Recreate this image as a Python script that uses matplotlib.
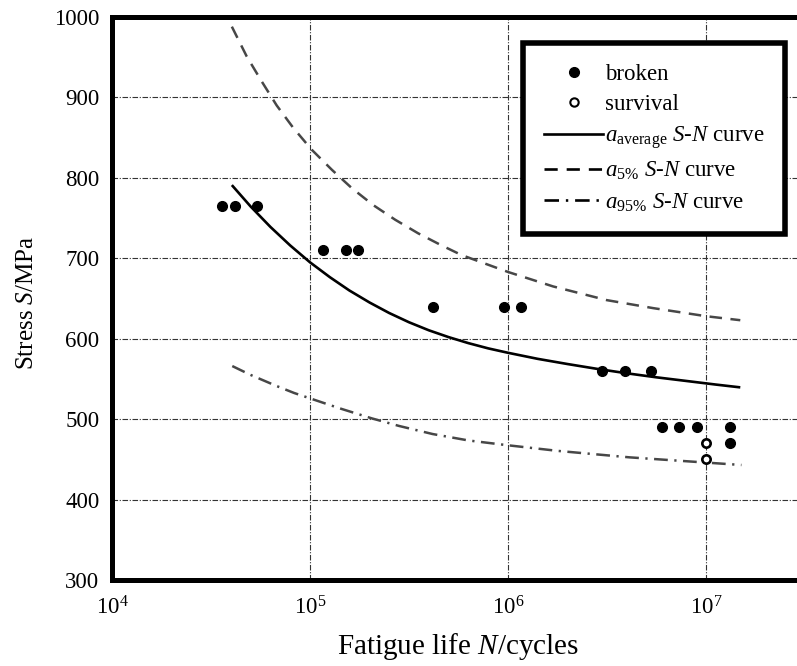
import matplotlib
matplotlib.use("Agg")
import matplotlib.pyplot as plt
from matplotlib.lines import Line2D

plt.rcParams['font.family'] = ['Liberation Serif', 'DejaVu Serif']
plt.rcParams['mathtext.fontset'] = 'custom'
plt.rcParams['mathtext.rm'] = 'Liberation Serif'
plt.rcParams['mathtext.it'] = 'Liberation Serif:italic'
plt.rcParams['mathtext.bf'] = 'Liberation Serif:bold'

# ---- data ----
broken_N = [3.6e4, 4.2e4, 5.4e4, 1.16e5, 1.52e5, 1.75e5, 4.2e5, 9.6e5, 1.16e6,
            3.0e6, 3.9e6, 5.3e6, 6.0e6, 7.3e6, 9.0e6, 1.32e7, 1.32e7]
broken_S = [765, 765, 765, 710, 710, 710, 640, 640, 640,
            560, 560, 560, 490, 490, 490, 490, 470]
survival_N = [1.0e7, 1.0e7]
survival_S = [470, 450]

avg_N = [4.03e4, 5.01e4, 6.31e4, 7.94e4, 1.0e5, 1.26e5, 1.58e5, 2.0e5, 2.51e5,
         3.16e5, 3.98e5, 5.01e5, 6.31e5, 7.94e5, 1.0e6, 1.41e6, 2.0e6, 2.82e6,
         3.98e6, 5.62e6, 7.94e6, 1.12e7, 1.49e7]
avg_S = [791, 764.5, 739, 716, 695, 676.5, 660, 645, 632, 620.5, 610.5, 602,
         594.5, 588, 582.5, 575, 568.5, 562.5, 557, 552, 547.5, 543, 539.5]

p5_N = [4.03e4, 4.79e4, 5.70e4, 6.79e4, 8.24e4, 1.02e5, 1.29e5, 1.63e5, 2.09e5,
        2.69e5, 3.52e5, 4.62e5, 5.83e5, 1.0e6, 1.69e6, 3.15e6, 5.42e6, 1.0e7, 1.49e7]
p5_S = [988, 951, 920, 890, 862, 835, 810, 787, 766, 748, 731, 716, 704, 683,
        665, 648, 638, 628, 623]

p95_N = [4.05e4, 5.01e4, 6.81e4, 8.32e4, 1.01e5, 1.41e5, 2.05e5, 2.82e5, 4.16e5,
         6.31e5, 1.0e6, 1.79e6, 4.11e6, 1.0e7, 1.51e7]
p95_S = [566, 555, 541, 532.5, 525.5, 513.5, 501, 491.5, 481.5, 473.5, 467.5,
         460.5, 452.5, 446, 443]

y_ticks = [300, 400, 500, 600, 700, 800, 900, 1000]
x_ticks = [1e4, 1e5, 1e6, 1e7]

labels = ['broken', 'survival',
          r'$a_{\mathrm{average}}$ $S$-$N$ curve',
          r'$a_{\mathrm{5\%}}$ $S$-$N$ curve',
          r'$a_{\mathrm{95\%}}$ $S$-$N$ curve']

# ---- figure ----
W, H = 797, 666
fig = plt.figure(figsize=(W / 100, H / 100), dpi=100)
left, right, top, bottom = 112, 805, 17, 580
ax = fig.add_axes([left / W, 1 - bottom / H, (right - left) / W, (bottom - top) / H])

grey = '#474747'
ax.plot(avg_N, avg_S, color='black', lw=1.9, zorder=3, solid_capstyle='butt')
ax.plot(p5_N, p5_S, color=grey, lw=1.8, dashes=(5.0, 3.4), zorder=3)
ax.plot(p95_N, p95_S, color=grey, lw=1.8, dashes=(5.5, 2.6, 0.9, 2.6), zorder=3)
ax.plot(broken_N, broken_S, 'o', color='black', ms=7.0, zorder=4)
ax.plot(survival_N, survival_S, 'o', mfc='white', mec='black', mew=1.9, ms=6.0, zorder=4)

ax.set_xscale('log')
ax.set_xlim(1e4, 10 ** 7.5)
ax.set_ylim(300, 1000)
ax.set_xticks(x_ticks)
ax.set_yticks(y_ticks)
ax.minorticks_off()
ax.tick_params(axis='both', length=0, labelsize=16.5)
ax.tick_params(axis='x', pad=12)
ax.tick_params(axis='y', pad=9)

ax.grid(True, which='major', color='#333333', lw=0.8, linestyle=(0, (5, 1.5, 1, 1.5)))
for s in ax.spines.values():
    s.set_linewidth(3.6)

ax.set_xlabel(r'Fatigue life $N$/cycles', fontsize=21, labelpad=8)
ax.set_ylabel(r'Stress $S$/MPa', fontsize=18)
ax.yaxis.set_label_coords(-0.107, 0.492)

handles = [
    Line2D([], [], ls='none', marker='o', color='black', ms=7.0),
    Line2D([], [], ls='none', marker='o', mfc='white', mec='black', mew=1.5, ms=6.0),
    Line2D([], [], color='black', lw=1.9),
    Line2D([], [], color='black', lw=1.9, dashes=(5.0, 3.4)),
    Line2D([], [], color='black', lw=1.9, dashes=(5.5, 2.6, 0.9, 2.6)),
]
leg = ax.legend(handles, labels, loc='upper right',
                bbox_to_anchor=(785 / W, 1 - 43 / H), bbox_transform=fig.transFigure,
                fontsize=16.5, frameon=True, fancybox=False, framealpha=1,
                edgecolor='black', borderaxespad=0, handlelength=2.57,
                handletextpad=0.08, labelspacing=0.4, borderpad=0.9)
leg.get_frame().set_linewidth(4.0)

fig.savefig('out.png', dpi=100)
